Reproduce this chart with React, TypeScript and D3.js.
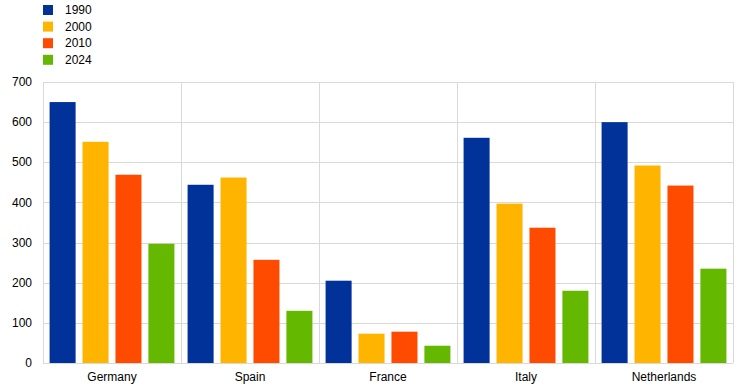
import React, { useRef, useEffect } from "react";
import * as d3 from "d3";

const countries = ["Germany", "Spain", "France", "Italy", "Netherlands"];
const years = ["1990", "2000", "2010", "2024"];
const v1990 = [650, 444, 205, 561, 600];
const v2000 = [551, 462, 73, 397, 492];
const v2010 = [469, 257, 78, 337, 442];
const v2024 = [297, 130, 43, 180, 235];
const yTicks = [0, 100, 200, 300, 400, 500, 600, 700];
const colors = ["#003299", "#ffb400", "#ff4b00", "#65b800"];

const series = [v1990, v2000, v2010, v2024];

const App: React.FC = () => {
  const ref = useRef<SVGSVGElement | null>(null);

  useEffect(() => {
    if (!ref.current) return;
    const svg = d3.select(ref.current);
    svg.selectAll("*").remove();

    const width = 744;
    const height = 390;
    const margin = { top: 82, right: 11, bottom: 27, left: 43 };
    const font = "Liberation Sans, Arial, sans-serif";

    svg.attr("width", width).attr("height", height);

    const x0 = d3
      .scaleBand<string>()
      .domain(countries)
      .range([margin.left, width - margin.right]);

    const x1 = d3
      .scaleBand<string>()
      .domain(years)
      .range([0, x0.bandwidth()])
      .paddingInner(0.21)
      .paddingOuter(0.2);

    const y = d3
      .scaleLinear()
      .domain([0, 700])
      .range([height - margin.bottom, margin.top]);

    const grid = svg.append("g").attr("stroke", "#d9d9d9").attr("stroke-width", 1);

    grid
      .selectAll("line.h")
      .data(yTicks)
      .enter()
      .append("line")
      .attr("x1", margin.left)
      .attr("x2", width - margin.right)
      .attr("y1", (d) => Math.round(y(d)) + 0.5)
      .attr("y2", (d) => Math.round(y(d)) + 0.5);

    const dividers = countries.map((c) => x0(c) as number).concat([width - margin.right]);
    grid
      .selectAll("line.v")
      .data(dividers)
      .enter()
      .append("line")
      .attr("x1", (d) => Math.round(d) + 0.5)
      .attr("x2", (d) => Math.round(d) + 0.5)
      .attr("y1", margin.top)
      .attr("y2", height - margin.bottom);

    const groups = svg
      .append("g")
      .selectAll("g")
      .data(countries)
      .enter()
      .append("g")
      .attr("transform", (c) => `translate(${x0(c)},0)`);

    groups
      .selectAll("rect")
      .data((c, i) => years.map((yr, k) => ({ yr, value: series[k][i], k })))
      .enter()
      .append("rect")
      .attr("x", (d) => x1(d.yr) as number)
      .attr("width", x1.bandwidth())
      .attr("y", (d) => y(d.value))
      .attr("height", (d) => y(0) - y(d.value))
      .attr("fill", (d) => colors[d.k]);

    svg
      .append("g")
      .selectAll("text")
      .data(yTicks)
      .enter()
      .append("text")
      .attr("x", 32)
      .attr("y", (d) => y(d))
      .attr("dy", "0.35em")
      .attr("text-anchor", "end")
      .attr("font-family", font)
      .attr("font-size", 12)
      .attr("fill", "#000")
      .text((d) => d);

    svg
      .append("g")
      .selectAll("text")
      .data(countries)
      .enter()
      .append("text")
      .attr("x", (c) => (x0(c) as number) + x0.bandwidth() / 2)
      .attr("y", 381)
      .attr("text-anchor", "middle")
      .attr("font-family", font)
      .attr("font-size", 12)
      .attr("fill", "#000")
      .text((c) => c);

    const legend = svg
      .append("g")
      .selectAll("g")
      .data(years)
      .enter()
      .append("g")
      .attr("transform", (d, i) => `translate(43,${5 + i * 16.6})`);

    legend
      .append("rect")
      .attr("width", 10)
      .attr("height", 10)
      .attr("fill", (d, i) => colors[i]);

    legend
      .append("text")
      .attr("x", 22)
      .attr("y", 5)
      .attr("dy", "0.35em")
      .attr("font-family", font)
      .attr("font-size", 12)
      .attr("fill", "#000")
      .text((d) => d);
  }, []);

  return (
    <svg
      ref={ref}
      style={{ position: "absolute", left: 0, top: 0, display: "block", background: "#fff" }}
    />
  );
};

export default App;
